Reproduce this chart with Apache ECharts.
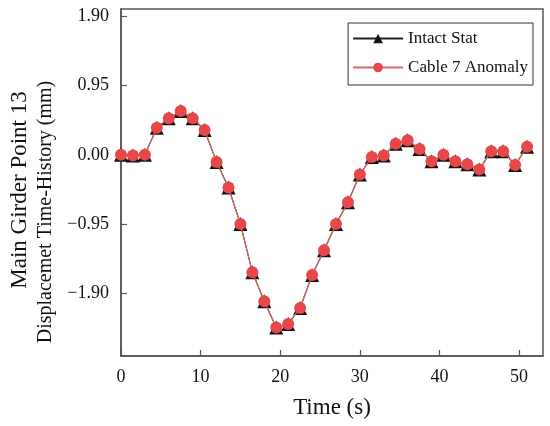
<!DOCTYPE html>
<html>
<head>
<meta charset="utf-8">
<script src="https://cdn.jsdelivr.net/npm/echarts@6/dist/echarts.min.js"></script>
<style>
html,body{margin:0;padding:0;background:#fff;}
#chart{width:550px;height:426px;}
</style>
</head>
<body>
<div id="chart"></div>
<script>
const timeS = [0,1.5,3,4.5,6,7.5,9,10.5,12,13.5,15,16.5,18,19.5,21,22.5,24,25.5,27,28.5,30,31.5,33,34.5,36,37.5,39,40.5,42,43.5,45,46.5,48,49.5,51];
const intactStat = [0.00,-0.01,0.00,0.37,0.50,0.60,0.50,0.34,-0.10,-0.45,-0.95,-1.61,-2.01,-2.37,-2.32,-2.10,-1.65,-1.31,-0.95,-0.65,-0.27,-0.03,-0.01,0.15,0.20,0.08,-0.09,0.00,-0.09,-0.13,-0.20,0.05,0.05,-0.14,0.11];
const cable7Anomaly = [0.00,-0.01,0.00,0.37,0.50,0.60,0.50,0.34,-0.10,-0.45,-0.95,-1.61,-2.01,-2.37,-2.32,-2.10,-1.65,-1.31,-0.95,-0.65,-0.27,-0.03,-0.01,0.15,0.20,0.08,-0.09,0.00,-0.09,-0.13,-0.20,0.05,0.05,-0.14,0.11];
const yTicks = [-1.90,-0.95,0.00,0.95,1.90];
const xTicks = [0,10,20,30,40,50];
const seriesNames = ['Intact Stat','Cable 7 Anomaly'];
const yTitle = ['Main Girder Point 13','Displacemet Time-History (mm)'];
const xTitle = 'Time (s)';

const FONT = '"Liberation Serif","Times New Roman",serif';
const AX = '#555';
const chart = echarts.init(document.getElementById('chart'), null, {renderer:'canvas'});
const pair = (xs, ys) => xs.map((x,i)=>[x, ys[i]]);
chart.setOption({
  animation:false,
  backgroundColor:'#fff',
  grid:{left:121,right:7,top:9,bottom:70,show:true,borderColor:AX,borderWidth:1.5,backgroundColor:'transparent'},
  legend:{
    right:17, top:23, orient:'vertical',
    itemWidth:50, itemHeight:12, itemGap:12,
    padding:[7,5,9,4],
    borderColor:'#333', borderWidth:1,
    textStyle:{fontFamily:FONT,fontSize:17,color:'#111'},
    data:seriesNames
  },
  xAxis:{
    type:'value', min:0, max:53, interval:10,
    axisLine:{show:true,onZero:false,lineStyle:{color:AX,width:1.5}},
    axisTick:{inside:true,length:6,lineStyle:{color:AX,width:1.2},customValues:xTicks},
    axisLabel:{fontFamily:FONT,fontSize:18,color:'#111',margin:12,customValues:xTicks},
    splitLine:{show:false},
    name:xTitle, nameLocation:'middle', nameGap:40,
    nameTextStyle:{fontFamily:FONT,fontSize:23,color:'#111'}
  },
  yAxis:{
    type:'value', min:-2.76, max:2.0,
    axisLine:{show:true,onZero:false,lineStyle:{color:AX,width:1.5}},
    axisTick:{inside:true,length:6,lineStyle:{color:AX,width:1.2},customValues:yTicks},
    axisLabel:{fontFamily:FONT,fontSize:18,color:'#111',margin:12,customValues:yTicks,
      formatter:v=>(v<0?'\u2212':'')+Math.abs(v).toFixed(2)},
    splitLine:{show:false}
  },
  graphic:[
    {type:'text',x:20,y:190,rotation:Math.PI/2,style:{text:yTitle[0],fontFamily:FONT,fontSize:23,fill:'#111',textAlign:'center',textVerticalAlign:'middle'}},
    {type:'text',x:46,y:212,rotation:Math.PI/2,style:{text:yTitle[1],fontFamily:FONT,fontSize:20,fill:'#111',textAlign:'center',textVerticalAlign:'middle'}}
  ],
  series:[
    {name:seriesNames[0],type:'line',data:pair(timeS,intactStat),symbol:'triangle',symbolSize:14,
      lineStyle:{color:'#222',width:1.2},itemStyle:{color:'#111'},z:2},
    {name:seriesNames[1],type:'line',data:pair(timeS,cable7Anomaly),symbol:'circle',symbolSize:12,
      lineStyle:{color:'#d46a6a',width:1.2},itemStyle:{color:'#e8474a'},z:3}
  ]
});
</script>
</body>
</html>
